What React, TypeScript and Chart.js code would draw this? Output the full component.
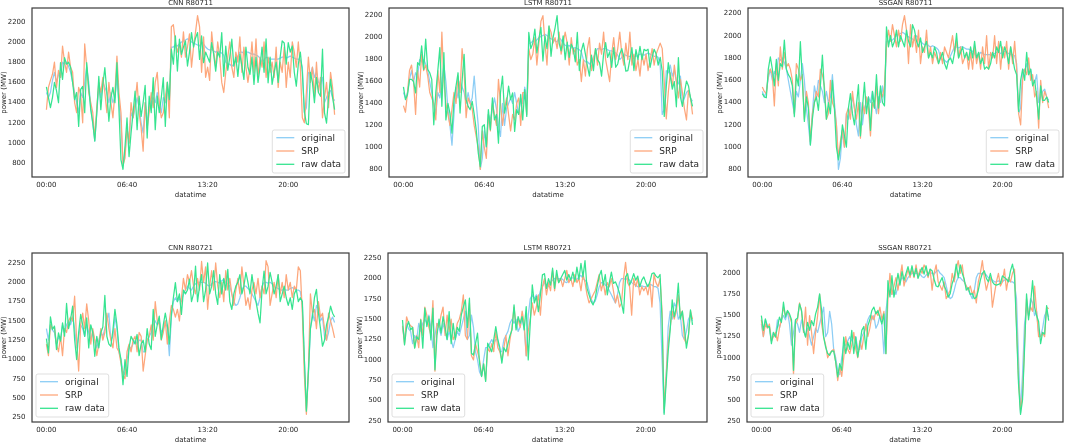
import React, { useEffect, useRef } from "react";
import { Chart, registerables } from "chart.js";

Chart.register(...registerables);

// ---------- data ----------
// x positions: 10-minute slots of one day (00:00 .. 23:50)
const timeSlots = Array.from({ length: 144 }, (_, i) => i);
const xTickSlots = [0, 40, 80, 120];
const xTickLabels = ["00:00", "06:40", "13:20", "20:00"];
const seriesNames = ["original", "SRP", "raw data"];

const r80711Original = [
  1500, 1450, 1500, 1620, 1700, 1600, 1680, 1650, 1800, 1780, 1800, 1760,
  1700, 1600, 1500, 1400, 1300, 1500, 1450, 1600, 1750, 1600, 1350, 1200,
  1020, 1300, 1550, 1450, 1600, 1550, 1500, 1400, 1500, 1400, 1450, 1650,
  1400, 1200, 800, 900, 1150, 1000, 1300, 1250, 1350, 1450, 1350, 1200,
  1100, 1400, 1200, 1350, 1400, 1450, 1400, 1500, 1400, 1300, 1450, 1400,
  1550, 1400, 1950, 1950, 1970, 1960, 1980, 2000, 2010, 2020, 2030, 2020,
  2000, 1990, 1980, 1970, 1960, 2000, 1980, 1950, 1930, 1920, 1930, 1910,
  1900, 1910, 1900, 1890, 1870, 1800, 1780, 1780, 1760, 1780, 1820, 1860,
  1900, 1900, 1890, 1900, 1900, 1890, 1880, 1880, 1870, 1860, 1840, 1800,
  1820, 1850, 1840, 1830, 1830, 1830, 1830, 1830, 1840, 1850, 1850, 1840,
  1850, 1860, 1850, 1840, 1830, 1830, 1820, 1750, 1300, 1350, 1700, 1680,
  1750, 1650, 1700, 1600, 1580, 1650, 1400, 1450, 1500, 1520, 1450, 1420,
];

const cnnR80711Raw = [
  1556, 1450, 1350, 1450, 1600, 1520, 1400, 1795, 1630, 1845, 1780, 1800,
  1750, 1600, 1430, 1500, 1165, 1530, 1560, 1300, 1795, 1550, 1330, 1200,
  1020, 1300, 1660, 1330, 1580, 1745, 1500, 1215, 1450, 1550, 1400, 1795,
  1330, 833, 740, 966, 1248, 866, 1100, 1298, 1513, 1132, 1463, 1264,
  1400, 1570, 1049, 1463, 1300, 1646, 1132, 1463, 1300, 1450, 1646, 1165,
  1603, 1430, 1928, 1780, 2060, 1712, 2027, 1878, 1950, 2010, 1762, 1900,
  2093, 1950, 2040, 2093, 1828, 2060, 1795, 1900, 1850, 1800, 1994, 1880,
  1712, 1900, 1850, 2093, 1660, 1960, 1720, 1850, 2027, 1760, 1850, 1660,
  1880, 1760, 1630, 1950, 1750, 1680, 1850, 1580, 1850, 1600, 1750, 1950,
  1700, 2030, 1596, 1850, 1580, 1700, 1800, 1600, 1850, 2010, 1990, 1780,
  1994, 1900, 1960, 1700, 1563, 1780, 1900, 1700, 1314, 1191, 1182, 1700,
  1600, 1400, 1650, 1500, 1463, 1928, 1298, 1198, 1450, 1630, 1450, 1330,
];

const cnnR80711Srp = [
  1330, 1550, 1620, 1680, 1800, 1550, 1720, 1650, 1960, 1800, 1700, 1900,
  1750, 1700, 1400, 1300, 1550, 1480, 1200, 1980, 1750, 1500, 1400, 1300,
  1050, 1350, 1600, 1500, 1650, 1500, 1300, 1600, 1400, 1250, 1500, 1860,
  1500, 1300, 780, 850, 1150, 1000, 1400, 1250, 1400, 1600, 1300, 1150,
  920, 1400, 1150, 1300, 1500, 1350, 1600, 1700, 1400, 1250, 1300, 1450,
  1600, 1250, 2150, 2170, 2000, 1900, 1980, 1850, 2100, 1850, 1950, 2080,
  1750, 1950, 2100, 2260, 2150, 1700, 2050, 1650, 1750, 1620, 2100, 1900,
  1750, 2000, 1850, 1600, 1500, 1700, 1850, 2000, 1750, 1650, 1900, 1800,
  2050, 1700, 1950, 1750, 1600, 1750, 2000, 1700, 2030, 1650, 1850, 1750,
  2000, 1650, 1850, 1700, 1800, 1650, 1950, 1550, 1800, 1700, 1950, 1550,
  1800, 1650, 2000, 1900, 1750, 2000, 1750, 1250, 1200, 1500, 1850, 1600,
  1750, 1450, 1800, 1500, 1650, 1250, 1450, 1600, 1350, 1700, 1550, 1280,
];

const lstmR80711Raw = [
  1552, 1435, 1480, 1619, 1620, 1600, 1497, 1772, 1750, 1925, 1711, 1986,
  1711, 1680, 1619, 1206, 1500, 1700, 1909, 1374, 1864, 1250, 1400, 1310,
  1130, 1435, 1558, 1680, 1313, 1600, 1848, 1435, 1374, 1343, 1420, 1300,
  1160, 950, 824, 1190, 1206, 1007, 1343, 1160, 1450, 1250, 1300, 1038,
  1500, 1650, 1313, 1400, 1558, 1435, 1497, 1145, 1343, 1300, 1482, 1250,
  1527, 1282, 2047, 1900, 1950, 2078, 1860, 1990, 2093, 1787, 2017, 1900,
  2108, 1830, 2000, 2090, 2200, 1950, 1880, 2017, 1800, 1960, 1820, 1940,
  1900, 1780, 2047, 1700, 1880, 1950, 1850, 1741, 1650, 1840, 1700, 1900,
  1800, 1770, 1650, 1850, 1955, 1820, 1870, 1730, 1910, 1730, 1760, 1850,
  1900, 1820, 1695, 1700, 1800, 1910, 1700, 1890, 1800, 1920, 1800, 1894,
  1880, 1894, 1730, 1820, 1894, 1850, 1750, 1820, 1695, 1282, 1550, 1772,
  1650, 1530, 1600, 1370, 1818, 1460, 1374, 1500, 1604, 1560, 1450, 1374,
];

const lstmR80711Srp = [
  1380, 1320, 1500, 1700, 1750, 1600, 1300, 1700, 1550, 1850, 1700, 1750,
  1650, 1500, 1450, 1400, 1250, 1700, 1500, 2050, 1600, 1400, 1300, 1200,
  1350, 1500, 1400, 1650, 1500, 1900, 1700, 1270, 1450, 1400, 1350, 1200,
  1100, 1000, 800, 1150, 1000, 900, 1300, 1150, 1400, 1300, 1200, 1620,
  1400, 1200, 1350, 1450, 1300, 1150, 1300, 1250, 1400, 1450, 1200, 1500,
  1500, 1300, 1900, 1800, 1850, 2000, 1750, 1950, 2150, 2200, 1950, 1750,
  2100, 2050, 1950, 2000, 1900, 2050, 1850, 1950, 2050, 1950, 1750, 2000,
  1850, 1900, 1750, 1800, 1600, 1800, 1650, 1900, 2000, 1700, 1800, 1900,
  1750, 1950, 1850, 2050, 1800, 1700, 1600, 1850, 2000, 1800, 1900, 2050,
  1850, 1750, 1950, 1800, 2050, 1750, 1850, 1700, 1800, 1650, 1850, 1750,
  1850, 1700, 1800, 1900, 1750, 1850, 1900, 1950, 1900, 1600, 1260, 1500,
  1680, 1550, 1750, 1600, 1450, 1620, 1500, 1350, 1250, 1520, 1450, 1300,
];

const ssganR80711Raw = [
  1480, 1450, 1443, 1700, 1811, 1700, 1550, 1787, 1600, 1750, 1720, 1961,
  1700, 1650, 1620, 1550, 1273, 1650, 1550, 1946, 1600, 1230, 1450, 1350,
  1018, 1250, 1400, 1450, 1330, 1550, 1826, 1500, 1250, 1400, 1300, 1600,
  1350, 1000, 884, 1000, 1200, 1100, 1000, 1350, 1480, 1300, 1200, 1380,
  1560, 1100, 1350, 1580, 1300, 1450, 1150, 1500, 1350, 1650, 1350, 1550,
  1400, 1370, 2080, 1900, 2000, 1900, 1950, 2050, 1900, 2000, 1950, 1900,
  2050, 1950, 1900, 2100, 2050, 1950, 1900, 1980, 1850, 1900, 1950, 1800,
  1850, 1800, 1900, 1850, 1750, 1800, 1850, 1750, 1700, 1780, 1800, 1750,
  1850, 2020, 1800, 1850, 1900, 1800, 1850, 1780, 1900, 1800, 1950, 1800,
  1850, 1750, 1800, 1700, 1720, 1700, 1750, 1850, 1800, 1900, 1850, 1950,
  1800, 1900, 1850, 1750, 1900, 1800, 1700, 1650, 1320, 1600, 1700, 1600,
  1850, 1650, 1700, 1550, 1600, 1450, 1250, 1550, 1420, 1420, 1450, 1400,
];

const ssganR80711Srp = [
  1540, 1500, 1480, 1650, 1700, 1650, 1370, 1750, 1550, 1900, 1700, 1850,
  1720, 1750, 1700, 1600, 1300, 1750, 1700, 1600, 1650, 1250, 1500, 1400,
  1050, 1300, 1400, 1500, 1450, 1700, 1650, 1550, 1250, 1300, 1600, 1400,
  1350, 1200, 900, 1050, 1150, 1000, 1300, 1350, 1250, 1500, 1350, 1250,
  1400, 1080, 1400, 1300, 1450, 1350, 1100, 1400, 1350, 1550, 1300, 1500,
  1450, 1550, 1900, 2050, 1950, 2100, 2000, 1900, 2050, 1950, 2100, 2180,
  2050, 1750, 2100, 1900, 2000, 1850, 2050, 1750, 1900, 1850, 2050, 1800,
  1900, 1750, 1850, 1800, 1750, 1850, 1750, 1900, 1850, 1800, 1900, 2000,
  1850, 1950, 1800, 1900, 1750, 1800, 1850, 1700, 1850, 1700, 1900, 1750,
  1850, 1700, 1900, 1750, 2000, 1700, 1850, 1800, 2000, 1750, 1950, 1700,
  1900, 1800, 1950, 1700, 1900, 1750, 1950, 1700, 1300, 1200, 1600, 1700,
  1650, 1800, 1600, 1650, 1450, 1500, 1170, 1600, 1400, 1500, 1450, 1350,
];

const r80721Original = [
  1400, 1250, 1450, 1380, 1350, 1200, 1300, 1250, 1450, 1350, 1450, 1500,
  1450, 1550, 1400, 1150, 1300, 1450, 1400, 1300, 1450, 1350, 1250, 1350,
  1250, 1150, 1250, 1350, 1300, 1400, 1500, 1600, 1250, 1300, 1550, 1400,
  1100, 1000, 850, 800, 1000, 1150, 1150, 1200, 1250, 1200, 1250, 1250,
  1100, 1100, 1250, 1300, 1350, 1450, 1500, 1450, 1500, 1350, 1400, 1500,
  1400, 1050, 1550, 1750, 1800, 1750, 1800, 1750, 1850, 1900, 1950, 1920,
  1900, 1950, 1980, 2000, 2000, 2000, 2000, 1990, 1960, 1950, 1980, 2000,
  2010, 2000, 1990, 2020, 2040, 2000, 1980, 1950, 1850, 1750, 1700, 1720,
  1800, 1900, 1950, 1950, 1920, 1900, 1850, 1800, 1750, 1700, 1800, 1950,
  2000, 2000, 1990, 2000, 1980, 1950, 1930, 1920, 1900, 1900, 1910, 1900,
  1900, 1920, 1930, 1920, 1900, 1900, 1880, 1700, 1000, 350, 800, 1400,
  1600, 1500, 1700, 1650, 1500, 1550, 1300, 1250, 1350, 1500, 1550, 1480,
];

const cnnR80721Raw = [
  1270, 1085, 1553, 1389, 1432, 1129, 1345, 1237, 1475, 1302, 1726, 1400,
  1518, 1690, 1259, 1000, 1350, 1583, 1450, 1300, 1540, 1150, 1450, 1350,
  1042, 1300, 1150, 1350, 1420, 1830, 1300, 1200, 1172, 1380, 1650, 1450,
  1150, 1000, 674, 1000, 782, 1150, 1300, 1250, 1200, 1324, 1050, 1200,
  1250, 1100, 1400, 1200, 1129, 1648, 1300, 1450, 1562, 1259, 1450, 1600,
  1450, 1200, 1583, 1800, 1995, 1750, 1850, 1583, 1900, 1850, 1900, 2040,
  1750, 1850, 2211, 1750, 1950, 2100, 1750, 1900, 2250, 1850, 1950, 2150,
  1850, 1713, 2100, 1850, 2050, 1900, 2168, 1750, 1648, 1850, 1950, 2000,
  2100, 1850, 1950, 2130, 2000, 1850, 2100, 1900, 1750, 1600, 1475, 1900,
  2146, 1850, 1950, 2130, 2000, 1850, 1950, 2100, 1750, 1850, 1950, 1800,
  1700, 1800, 1650, 1850, 1908, 1750, 1800, 1750, 1000, 330, 850, 1400,
  1550, 1800, 1908, 1600, 1400, 1172, 1250, 1450, 1550, 1690, 1600, 1550,
];

const cnnR80721Srp = [
  1200, 1050, 1450, 1400, 1420, 1200, 1100, 1300, 1050, 1400, 1350, 1500,
  1550, 1500, 1820, 1250, 850, 1450, 1600, 1400, 1720, 1500, 1200, 1400,
  1250, 1050, 1200, 1400, 1250, 1350, 1600, 1400, 1250, 1150, 1400, 1150,
  1100, 950, 800, 750, 1100, 1200, 1100, 1250, 1300, 1100, 1350, 1300,
  850, 1050, 1250, 1300, 1450, 1250, 1750, 1500, 1450, 1250, 1350, 1500,
  1200, 1500, 1700, 1650, 1550, 1650, 1500, 1800, 2050, 1900, 2100, 2000,
  2150, 1950, 1850, 2050, 1900, 2270, 2000, 2200, 1650, 1950, 2150, 1900,
  2250, 1950, 1800, 2000, 1750, 2150, 1900, 2050, 1850, 1700, 1900, 2050,
  1850, 2200, 1950, 1700, 1800, 1650, 1900, 2000, 1850, 2050, 1800, 1950,
  1850, 2280, 2200, 1700, 1850, 2000, 1800, 2100, 1850, 2000, 1800, 2100,
  1900, 2000, 1800, 1950, 1900, 2200, 2150, 1600, 800, 290, 850, 1850,
  1600, 1650, 1400, 1750, 1550, 1600, 1400, 1250, 1600, 1500, 1400, 1280,
];

const lstmR80721Raw = [
  1490, 1184, 1400, 1471, 1369, 1400, 1143, 1287, 1250, 1492, 1143, 1635,
  1410, 1533, 1246, 1635, 877, 1300, 1500, 1330, 1533, 1400, 1250, 1594,
  1200, 1450, 1250, 1400, 1350, 1553, 1650, 1738, 1400, 1758, 1082, 1060,
  1200, 1328, 959, 795, 950, 734, 1205, 1150, 1100, 1250, 1410, 1250,
  1150, 959, 1150, 1100, 1200, 1300, 1369, 1676, 1369, 1533, 1450, 1533,
  1369, 1655, 1000, 1450, 1922, 1700, 1780, 1594, 1800, 2045, 2060, 1880,
  2000, 1920, 2127, 1880, 2100, 1950, 2000, 2050, 2100, 1980, 2050, 1980,
  2080, 1960, 2140, 1990, 2188, 2020, 2220, 1880, 1800, 1720, 1676, 1750,
  1900, 2030, 2100, 1920, 2050, 1800, 1950, 2080, 1940, 1960, 1900, 1820,
  1700, 1574, 2020, 2060, 1920, 1980, 2060, 1980, 2030, 1900, 1980, 2020,
  1950, 1900, 1960, 2060, 2070, 2030, 2010, 2050, 1500, 330, 713, 1100,
  1369, 1738, 1530, 1650, 1943, 1500, 1600, 1400, 1143, 1300, 1615, 1430,
];

const lstmR80721Srp = [
  1420, 1200, 1530, 1450, 1420, 1400, 1150, 1300, 1150, 1500, 1300, 1650,
  1550, 1400, 1300, 1730, 860, 1450, 1400, 1550, 1650, 1300, 1550, 1350,
  1500, 1250, 1300, 1450, 1500, 1600, 1800, 1300, 1250, 1700, 1050, 1000,
  1200, 1100, 1000, 800, 950, 750, 1150, 1100, 1200, 1100, 1350, 1150,
  1100, 1000, 1150, 1300, 1050, 1250, 1400, 1650, 1400, 1500, 1400, 1600,
  1450, 1050, 1350, 1500, 1700, 1550, 1650, 1800, 1550, 1900, 2000, 1800,
  1950, 1850, 2100, 1850, 2050, 1950, 2000, 1900, 2000, 2100, 1950, 2000,
  1900, 2050, 1950, 2000, 1850, 2050, 1950, 1800, 1700, 1750, 1800, 1850,
  1950, 2050, 1850, 1950, 1800, 1950, 1900, 2000, 1850, 1700, 1800, 1650,
  1700, 2000, 2200, 1950, 1900, 1550, 2000, 1900, 2000, 1800, 1900, 1850,
  1900, 1800, 1950, 1650, 2050, 1950, 1900, 2000, 1600, 400, 800, 1200,
  1400, 1600, 1500, 1600, 1800, 1550, 1600, 1250, 1200, 1300, 1600, 1500,
];

const ssganR80721Raw = [
  1500, 1324, 1461, 1363, 1370, 1166, 1300, 1245, 1363, 1481, 1420, 1658,
  1481, 1560, 1520, 1450, 852, 1450, 1470, 1638, 1560, 1324, 1245, 1420,
  1324, 1440, 1380, 1520, 1600, 1756, 1560, 1245, 1127, 1050, 1029, 1080,
  1080, 950, 773, 930, 850, 1245, 1050, 1186, 1100, 1324, 1050, 1245,
  1009, 1160, 1324, 1370, 1100, 1380, 1450, 1560, 1600, 1520, 1560, 1480,
  1400, 1520, 1048, 1913, 1720, 1972, 1717, 1850, 2000, 1860, 2020, 1920,
  2000, 2080, 1980, 2090, 1960, 2060, 1940, 2010, 2070, 1990, 2090, 1970,
  2050, 2030, 1930, 1850, 1840, 1900, 1950, 1850, 1800, 1717, 1760, 1880,
  1950, 2110, 1950, 2100, 2000, 1930, 1800, 1830, 1750, 1760, 1700, 1717,
  1800, 1920, 2000, 2030, 1940, 1900, 2000, 1900, 1870, 1860, 1870, 1880,
  1970, 1950, 1930, 1900, 2030, 2110, 1980, 1350, 695, 330, 500, 1100,
  1756, 1450, 1640, 1913, 1600, 1500, 1430, 1166, 1300, 1280, 1618, 1440,
];

const ssganR80721Srp = [
  1450, 1250, 1400, 1350, 1400, 1200, 1250, 1300, 1200, 1350, 1450, 1600,
  1500, 1550, 1500, 1420, 800, 1400, 1450, 1650, 1550, 1300, 1600, 1150,
  1500, 1300, 1050, 1300, 1500, 1750, 1400, 1250, 1150, 1000, 1050, 1080,
  1100, 950, 730, 900, 780, 1000, 1250, 1100, 1050, 1150, 1300, 1100,
  1000, 1200, 1100, 1250, 1400, 1250, 1350, 1500, 1450, 1550, 1500, 1600,
  1450, 1550, 1050, 1700, 2000, 1750, 1850, 1950, 1800, 1950, 2100, 1850,
  1950, 2050, 1950, 2050, 1950, 2100, 1950, 2050, 2000, 2100, 2050, 1950,
  2050, 1800, 2000, 2100, 1900, 1850, 1800, 1900, 1700, 1750, 1800, 2000,
  1900, 2050, 2150, 2000, 2100, 1900, 1850, 1800, 1850, 1750, 1800, 1650,
  1900, 2000, 2150, 1950, 1800, 1900, 1950, 1600, 1750, 1900, 2000, 1850,
  1900, 2050, 1800, 1950, 1900, 2000, 2050, 1400, 750, 380, 550, 1150,
  1700, 1500, 1600, 1550, 1850, 1550, 1250, 1250, 1300, 1250, 1600, 1580,
];

const panelTitles = [
  "CNN R80711",
  "LSTM R80711",
  "SSGAN R80711",
  "CNN R80721",
  "LSTM R80721",
  "SSGAN R80721",
];

// ---------- styling / layout ----------
const COLORS = ["#8ccdf5", "#fda77c", "#36e490"];
const FONT = "'DejaVu Sans', 'Liberation Sans', sans-serif";
const TEXT = "#262626";

type Panel = {
  title: string;
  series: number[][];
  step: number;
  legendSide: "left" | "right";
  area: { left: number; right: number; top: number; bottom: number };
};

const ROW1 = { top: 8, bottom: 177 };
const ROW2 = { top: 253, bottom: 422 };

const panels: Panel[] = [
  { title: panelTitles[0], series: [r80711Original, cnnR80711Srp, cnnR80711Raw], step: 200, legendSide: "right", area: { left: 32, right: 349, ...ROW1 } },
  { title: panelTitles[1], series: [r80711Original, lstmR80711Srp, lstmR80711Raw], step: 200, legendSide: "right", area: { left: 389, right: 707, ...ROW1 } },
  { title: panelTitles[2], series: [r80711Original, ssganR80711Srp, ssganR80711Raw], step: 200, legendSide: "right", area: { left: 748, right: 1063, ...ROW1 } },
  { title: panelTitles[3], series: [r80721Original, cnnR80721Srp, cnnR80721Raw], step: 250, legendSide: "left", area: { left: 32, right: 349, ...ROW2 } },
  { title: panelTitles[4], series: [r80721Original, lstmR80721Srp, lstmR80721Raw], step: 250, legendSide: "left", area: { left: 388, right: 707, ...ROW2 } },
  { title: panelTitles[5], series: [r80721Original, ssganR80721Srp, ssganR80721Raw], step: 250, legendSide: "left", area: { left: 747, right: 1063, ...ROW2 } },
];

const Y_AXIS_W = 32;
const PAD_TOP = 8;
const X_AXIS_H = 22;
const PAD_RIGHT = 2;

const panelDecor = {
  id: "panelDecor",
  afterDatasetsDraw(chart: any, _args: any, opts: any) {
    const { ctx, chartArea: a } = chart;
    ctx.save();
    // frame
    ctx.strokeStyle = "#3a3a3a";
    ctx.lineWidth = 1.2;
    ctx.strokeRect(a.left, a.top, a.right - a.left, a.bottom - a.top);
    // title
    ctx.fillStyle = TEXT;
    ctx.font = `7px ${FONT}`;
    ctx.textAlign = "center";
    ctx.textBaseline = "middle";
    ctx.fillText(opts.title, (a.left + a.right) / 2, a.top - 5);
    // legend
    ctx.font = `9px ${FONT}`;
    const items = chart.data.datasets.map((d: any) => ({ label: d.label, color: d.borderColor }));
    const textW = Math.max(...items.map((i: any) => ctx.measureText(i.label).width));
    const w = 4 + 18 + 7 + textW + 4;
    const h = 43;
    const x = opts.legendSide === "right" ? a.right - 4 - w : a.left + 4;
    const y = a.bottom - (opts.legendSide === "right" ? 4 : 5) - h;
    ctx.beginPath();
    const r = 2;
    ctx.moveTo(x + r, y);
    ctx.lineTo(x + w - r, y);
    ctx.quadraticCurveTo(x + w, y, x + w, y + r);
    ctx.lineTo(x + w, y + h - r);
    ctx.quadraticCurveTo(x + w, y + h, x + w - r, y + h);
    ctx.lineTo(x + r, y + h);
    ctx.quadraticCurveTo(x, y + h, x, y + h - r);
    ctx.lineTo(x, y + r);
    ctx.quadraticCurveTo(x, y, x + r, y);
    ctx.closePath();
    ctx.fillStyle = "rgba(255,255,255,0.8)";
    ctx.fill();
    ctx.strokeStyle = "rgba(204,204,204,0.8)";
    ctx.lineWidth = 0.8;
    ctx.stroke();
    ctx.textAlign = "left";
    ctx.textBaseline = "middle";
    items.forEach((it: any, i: number) => {
      const cy = y + 7.7 + i * 13.3;
      ctx.strokeStyle = it.color;
      ctx.lineWidth = 1.3;
      ctx.beginPath();
      ctx.moveTo(x + 4, cy);
      ctx.lineTo(x + 22, cy);
      ctx.stroke();
      ctx.fillStyle = TEXT;
      ctx.fillText(it.label, x + 29, cy + 0.5);
    });
    ctx.restore();
  },
};

function PanelChart({ panel }: { panel: Panel }) {
  const ref = useRef<HTMLCanvasElement | null>(null);
  const { area } = panel;
  const width = area.right - area.left + Y_AXIS_W + PAD_RIGHT;
  const height = PAD_TOP + (area.bottom - area.top) + X_AXIS_H;

  useEffect(() => {
    if (!ref.current) return;
    const all = panel.series.flat();
    const lo = Math.min(...all);
    const hi = Math.max(...all);
    const m = (hi - lo) * 0.05;
    const yMin = lo - m;
    const yMax = hi + m;
    const yTicks: number[] = [];
    for (let v = Math.ceil(yMin / panel.step) * panel.step; v <= yMax; v += panel.step) yTicks.push(v);
    const n = timeSlots.length - 1;

    const chart = new Chart(ref.current, {
      type: "line",
      data: {
        datasets: panel.series.map((vals, si) => ({
          label: seriesNames[si],
          data: timeSlots.map((t, i) => ({ x: t, y: vals[i] })),
          borderColor: COLORS[si],
          backgroundColor: COLORS[si],
          borderWidth: 1.25,
          pointRadius: 0,
          pointHoverRadius: 0,
          tension: 0,
          fill: false,
          borderJoinStyle: "round" as const,
          order: 2 - si,
        })),
      },
      options: {
        responsive: false,
        animation: false,
        events: [],
        layout: { padding: { top: PAD_TOP, right: PAD_RIGHT, left: 0, bottom: 0 } },
        plugins: {
          legend: { display: false },
          title: { display: false },
          tooltip: { enabled: false },
          panelDecor: { title: panel.title, legendSide: panel.legendSide },
        } as any,
        scales: {
          x: {
            type: "linear",
            position: "bottom",
            min: -0.05 * n,
            max: n * 1.05,
            grid: { display: false, drawTicks: false },
            border: { display: false },
            ticks: {
              autoSkip: false,
              maxRotation: 0,
              minRotation: 0,
              padding: 4,
              color: TEXT,
              font: { family: FONT, size: 7 },
              callback: (v: any) => {
                const k = xTickSlots.indexOf(Number(v));
                return k >= 0 ? xTickLabels[k] : "";
              },
            },
            title: {
              display: true,
              text: "datatime",
              color: TEXT,
              font: { family: FONT, size: 7 },
              padding: { top: 0, bottom: 0 },
            },
            afterBuildTicks: (s: any) => {
              s.ticks = xTickSlots.map((v) => ({ value: v }));
            },
            afterFit: (s: any) => {
              s.height = X_AXIS_H;
              s.paddingLeft = 0;
              s.paddingRight = 0;
            },
          },
          y: {
            type: "linear",
            position: "left",
            min: yMin,
            max: yMax,
            grid: { display: false, drawTicks: false },
            border: { display: false },
            ticks: {
              padding: 6.5,
              color: TEXT,
              font: { family: FONT, size: 7 },
              callback: (v: any) => String(Math.round(Number(v))),
            },
            title: {
              display: true,
              text: "power (MW)",
              color: TEXT,
              font: { family: FONT, size: 7 },
              padding: { top: 0, bottom: 0 },
            },
            afterBuildTicks: (s: any) => {
              s.ticks = yTicks.map((v) => ({ value: v }));
            },
            afterFit: (s: any) => {
              s.width = Y_AXIS_W;
              s.paddingTop = 0;
              s.paddingBottom = 0;
            },
          },
        },
      },
      plugins: [panelDecor as any],
    });
    return () => chart.destroy();
  }, [panel]);

  return (
    <canvas
      ref={ref}
      width={width}
      height={height}
      style={{
        position: "absolute",
        left: area.left - Y_AXIS_W,
        top: area.top - PAD_TOP,
        width,
        height,
      }}
    />
  );
}

export default function App() {
  return (
    <div
      style={{
        position: "fixed",
        left: 0,
        top: 0,
        width: 1065,
        height: 442,
        background: "#ffffff",
        overflow: "hidden",
      }}
    >
      {panels.map((p) => (
        <PanelChart key={p.title} panel={p} />
      ))}
    </div>
  );
}
